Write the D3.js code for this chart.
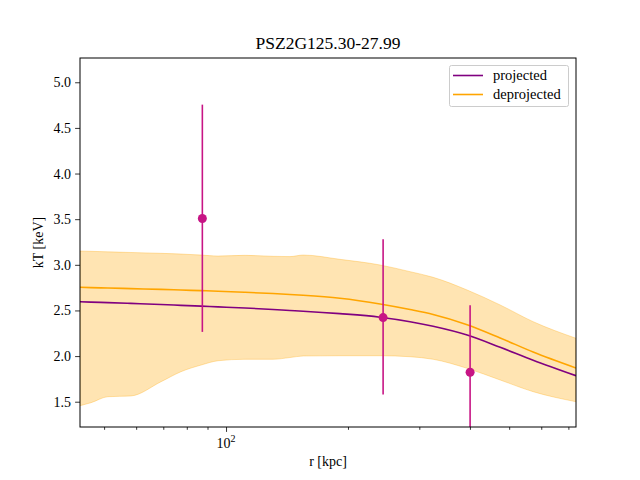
<!DOCTYPE html>
<html>
<head>
<meta charset="utf-8">
<script src="https://cdn.jsdelivr.net/npm/d3@7/dist/d3.min.js"></script>
<style>
html,body{margin:0;padding:0;background:#fff;}
svg{display:block;}
text{font-family:"Liberation Serif","Times New Roman",serif;fill:#000;}
</style>
</head>
<body>
<svg id="chart" width="640" height="480"></svg>
<script>
// ---- data ----
const title = "PSZ2G125.30-27.99";
const xLabel = "r [kpc]";
const yLabel = "kT [keV]";
const seriesNames = ["projected", "deprojected"];

// model radius grid (kpc)
const modelR = [43.6, 46.4, 51.1, 58.2, 69.1, 77.4, 86.8, 95.6, 111.4, 130.6, 143.8, 155, 191, 240, 284.6, 324.5, 393.7, 475, 573, 731];
const projectedT = [2.596, 2.591, 2.586, 2.577, 2.565, 2.556, 2.547, 2.539, 2.527, 2.511, 2.500, 2.492, 2.465, 2.426, 2.377, 2.326, 2.230, 2.096, 1.955, 1.785];
const deprojectedT = [2.754, 2.750, 2.746, 2.739, 2.731, 2.724, 2.717, 2.711, 2.699, 2.685, 2.675, 2.666, 2.633, 2.571, 2.510, 2.456, 2.344, 2.199, 2.044, 1.869];
const deprojUpper = [3.151, 3.148, 3.142, 3.135, 3.126, 3.118, 3.107, 3.096, 3.104, 3.093, 3.090, 3.107, 3.060, 2.998, 2.925, 2.863, 2.724, 2.560, 2.377, 2.195];
const deprojLower = [1.456, 1.489, 1.555, 1.563, 1.719, 1.829, 1.902, 1.949, 1.965, 1.965, 1.984, 2.001, 2.004, 2.004, 1.993, 1.965, 1.866, 1.738, 1.610, 1.500];

// measured points
const pointR = [87.4, 244.2, 400.4];
const pointT = [3.507, 2.422, 1.823];
const pointTlow = [2.265, 1.579, 1.10];
const pointThigh = [4.755, 3.28, 2.557];

const yTicks = [1.5, 2.0, 2.5, 3.0, 3.5, 4.0, 4.5, 5.0];
const xMajorTicks = [100];
const xMinorTicks = [50, 60, 70, 80, 90, 200, 300, 400, 500, 600, 700];

// ---- layout ----
const L = 80, R = 576, T = 58, B = 427;
const svg = d3.select("#chart");
const x = d3.scaleLog().domain([43.6, 731]).range([L, R]);
const y = d3.scaleLinear().domain([1.223, 5.266]).range([B, T]);

svg.append("defs").append("clipPath").attr("id", "clip")
  .append("rect").attr("x", L).attr("y", T).attr("width", R - L).attr("height", B - T);

const plot = svg.append("g").attr("clip-path", "url(#clip)");

const idx = d3.range(modelR.length);
const area = d3.area()
  .x(i => x(modelR[i])).y0(i => y(deprojLower[i])).y1(i => y(deprojUpper[i]))
  .curve(d3.curveMonotoneX);
plot.append("path").datum(idx).attr("d", area)
  .attr("fill", "rgba(255,165,0,0.3)")
  .attr("stroke", "rgba(255,165,0,0.3)").attr("stroke-width", 1);

const line = arr => d3.line().x(i => x(modelR[i])).y(i => y(arr[i])).curve(d3.curveMonotoneX);
plot.append("path").datum(idx).attr("d", line(deprojectedT))
  .attr("fill", "none").attr("stroke", "orange").attr("stroke-width", 1.6);
plot.append("path").datum(idx).attr("d", line(projectedT))
  .attr("fill", "none").attr("stroke", "purple").attr("stroke-width", 1.6);

// error bars + points
const pidx = d3.range(pointR.length);
plot.selectAll(".eb").data(pidx).enter().append("line")
  .attr("x1", i => x(pointR[i])).attr("x2", i => x(pointR[i]))
  .attr("y1", i => y(pointTlow[i])).attr("y2", i => y(pointThigh[i]))
  .attr("stroke", "mediumvioletred").attr("stroke-width", 1.6);
plot.selectAll(".pt").data(pidx).enter().append("circle")
  .attr("cx", i => x(pointR[i])).attr("cy", i => y(pointT[i])).attr("r", 4.5)
  .attr("fill", "mediumvioletred");

// axes
const xAxisG = svg.append("g").attr("transform", `translate(0,${B})`);
xAxisG.call(d3.axisBottom(x).tickValues(xMajorTicks).tickSize(4.9).tickFormat(() => ""));
xAxisG.append("g").call(d3.axisBottom(x).tickValues(xMinorTicks).tickSize(2.8).tickFormat(() => ""));
xAxisG.selectAll(".domain").remove();
xAxisG.selectAll("line").attr("stroke", "#000").attr("stroke-width", 0.8);
xMajorTicks.forEach(v => {
  const t = xAxisG.append("text").attr("x", x(v)).attr("y", 21).attr("text-anchor", "middle")
    .style("font-size", "14px");
  t.append("tspan").text("10");
  t.append("tspan").attr("dy", -6).style("font-size", "10px").text(String(Math.round(Math.log10(v))));
});

const yAxisG = svg.append("g").attr("transform", `translate(${L},0)`);
yAxisG.call(d3.axisLeft(y).tickValues(yTicks).tickSize(4.9).tickPadding(4).tickFormat(d3.format(".1f")));
yAxisG.selectAll(".domain").remove();
yAxisG.selectAll("line").attr("stroke", "#000").attr("stroke-width", 0.8);
yAxisG.selectAll("text").style("font-family", '"Liberation Serif", serif').style("font-size", "14px").attr("fill", "#000");

// frame
svg.append("rect").attr("x", L).attr("y", T).attr("width", R - L).attr("height", B - T)
  .attr("fill", "none").attr("stroke", "#000").attr("stroke-width", 1);

// labels
svg.append("text").attr("x", (L + R) / 2).attr("y", 49).attr("text-anchor", "middle")
  .style("font-size", "17.5px").text(title);
svg.append("text").attr("x", (L + R) / 2).attr("y", 466).attr("text-anchor", "middle")
  .style("font-size", "14px").text(xLabel);
svg.append("text").attr("transform", `translate(43,${(T + B) / 2}) rotate(-90)`).attr("text-anchor", "middle")
  .style("font-size", "14px").text(yLabel);

// legend
const lg = svg.append("g");
lg.append("rect").attr("x", 449.5).attr("y", 65.5).attr("width", 119).attr("height", 41).attr("rx", 2)
  .attr("fill", "rgba(255,255,255,0.8)").attr("stroke", "#ccc").attr("stroke-width", 1);
const legColors = ["purple", "orange"];
seriesNames.forEach((n, i) => {
  const yy = 75.5 + i * 19;
  lg.append("line").attr("x1", 453).attr("x2", 483).attr("y1", yy).attr("y2", yy)
    .attr("stroke", legColors[i]).attr("stroke-width", 1.6);
  lg.append("text").attr("x", 493).attr("y", yy + 4.5).style("font-size", "14.5px").text(n);
});
</script>
</body>
</html>
